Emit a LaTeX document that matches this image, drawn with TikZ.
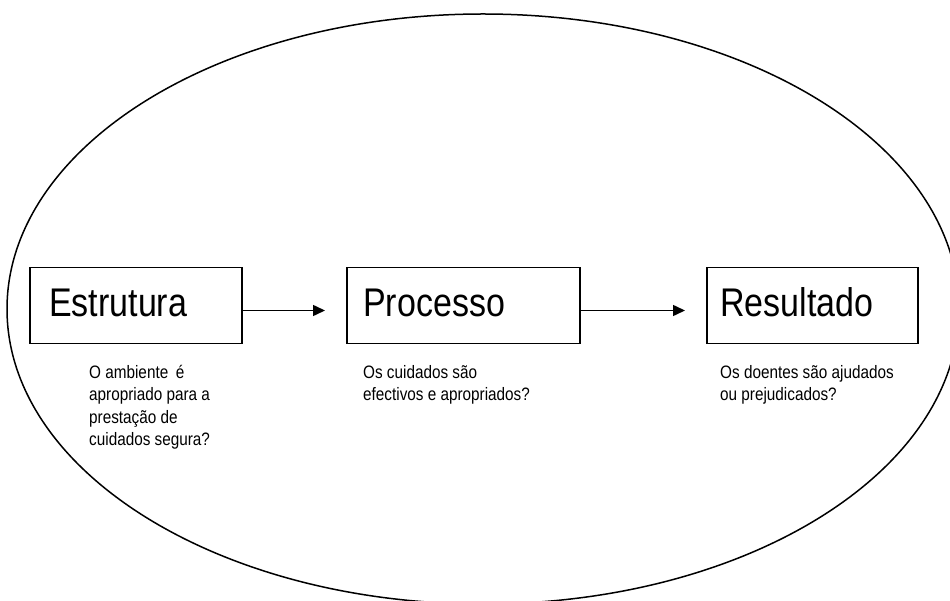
\documentclass[tikz,border=0pt]{standalone}
\usepackage{fontspec}
\setmainfont{Liberation Sans}
\usetikzlibrary{arrows.meta}
\newcommand{\narrowtxt}[1]{\scalebox{0.85}[1]{#1}}
\tikzset{
  boxnode/.style={draw, line width=1.5pt, rectangle, minimum width=#1, minimum height=76pt, inner sep=0pt, anchor=north west},
  bigtext/.style={font=\fontsize{40}{48}\selectfont, inner sep=0pt, anchor=base west},
  smalltext/.style={font=\fontsize{18}{22.5}\selectfont, inner sep=0pt, anchor=base west},
  flow/.style={line width=1.5pt, -{Triangle[length=12pt,width=11pt]}},
  outline/.style={line width=1.5pt}
}
\begin{document}
\begin{tikzpicture}[x=1pt,y=-1pt]
\path[use as bounding box] (0,0) rectangle (950,601);
\begin{scope}
\clip (0,0) rectangle (950,601);
\draw[outline] (483,309) ellipse [x radius=476pt, y radius=295pt];
\end{scope}
% boxes
\node[boxnode=212pt] (E) at (29,267) {};
\node[boxnode=233pt] (P) at (346,267) {};
\node[boxnode=211pt] (R) at (706,267) {};
% box titles
\node[bigtext] (Et) at (49,317) {\narrowtxt{Estrutura}};
\node[bigtext] (Pt) at (363,317) {\narrowtxt{Processo}};
\node[bigtext] (Rt) at (720,317) {\narrowtxt{Resultado}};
% arrows
\coordinate (a1) at (325,310.5);
\coordinate (a2) at (685,310.5);
\draw[flow] (E.east |- a1) -- (a1);
\draw[flow] (P.east |- a2) -- (a2);
% questions
\node[smalltext] (Eq) at (89,378) {\narrowtxt{\begin{tabular}[t]{@{}l@{}}O ambiente\hspace{4pt} é\\apropriado para a\\prestação de\\cuidados segura?\end{tabular}}};
\node[smalltext] (Pq) at (363,378) {\narrowtxt{\begin{tabular}[t]{@{}l@{}}Os cuidados são\\efectivos e apropriados?\end{tabular}}};
\node[smalltext] (Rq) at (720,378) {\narrowtxt{\begin{tabular}[t]{@{}l@{}}Os doentes são ajudados\\ou prejudicados?\end{tabular}}};
\end{tikzpicture}
\end{document}
